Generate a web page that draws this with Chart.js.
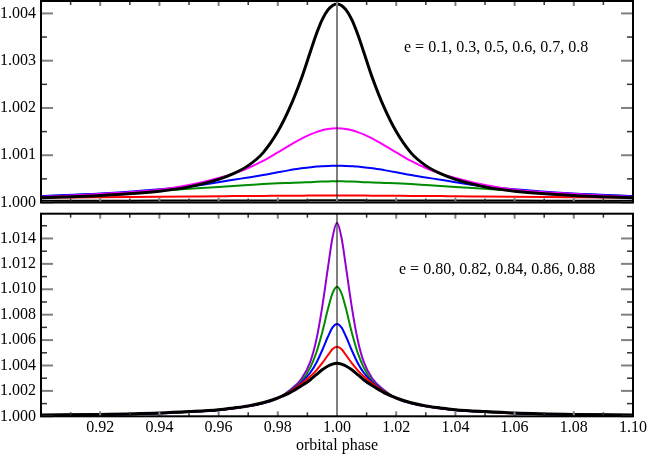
<!DOCTYPE html>
<html>
<head>
<meta charset="utf-8">
<script src="https://cdn.jsdelivr.net/npm/chart.js@4.4.0/dist/chart.umd.min.js"></script>
<style>
  html, body { margin: 0; padding: 0; background: #fff; }
  #wrap { position: relative; width: 647px; height: 455px; }
  #topBox { position: absolute; left: 0; top: 0; width: 647px; height: 208px; }
  #bottomBox { position: absolute; left: 0; top: 208px; width: 647px; height: 247px; }
</style>
</head>
<body>
<div id="wrap">
  <div id="topBox"><canvas id="topChart" width="647" height="208"></canvas></div>
  <div id="bottomBox"><canvas id="bottomChart" width="647" height="247"></canvas></div>
</div>
<script>
// orbital phase grid (denser near periastron)
const phase = [0.900, 0.920, 0.940, 0.950, 0.960, 0.965, 0.970, 0.975, 0.980, 0.984, 0.988, 0.991, 0.993, 0.995, 0.997, 0.9985, 1.000,
  1.0015, 1.003, 1.005, 1.007, 1.009, 1.012, 1.016, 1.020, 1.025, 1.030, 1.035, 1.040, 1.050, 1.060, 1.080, 1.100];

// top panel: e = 0.1 ... 0.8
const e01 = [1.000035, 1.000035, 1.00004, 1.00004, 1.00004, 1.00004, 1.00004, 1.00004, 1.000042, 1.000043, 1.000044, 1.000045, 1.000045, 1.000045, 1.000045, 1.000045, 1.000045,
  1.000045, 1.000045, 1.000045, 1.000045, 1.000045, 1.000044, 1.000043, 1.000042, 1.00004, 1.00004, 1.00004, 1.00004, 1.00004, 1.00004, 1.000035, 1.000035];
const e03 = [1.000100, 1.000110, 1.000120, 1.000125, 1.000130, 1.000135, 1.000137, 1.000140, 1.000142, 1.000144, 1.000145, 1.000146, 1.000147, 1.000147, 1.000147, 1.000147, 1.000147,
  1.000147, 1.000147, 1.000147, 1.000147, 1.000146, 1.000145, 1.000144, 1.000142, 1.000140, 1.000137, 1.000135, 1.000130, 1.000125, 1.000120, 1.000110, 1.000100];
const e05 = [1.00013, 1.00018, 1.00025, 1.00029, 1.00033, 1.00035, 1.00037, 1.00039, 1.000405, 1.000415, 1.000425, 1.00043, 1.000437, 1.000442, 1.000446, 1.000448, 1.00045,
  1.000448, 1.000446, 1.000442, 1.000437, 1.00043, 1.000425, 1.000415, 1.000405, 1.00039, 1.00037, 1.00035, 1.00033, 1.00029, 1.00025, 1.00018, 1.00013];
const e06 = [1.000135, 1.00019, 1.00028, 1.00034, 1.00043, 1.00048, 1.00053, 1.00058, 1.00064, 1.000685, 1.000725, 1.000745, 1.00076, 1.000768, 1.000774, 1.000777, 1.000778,
  1.000777, 1.000774, 1.000768, 1.00076, 1.000745, 1.000725, 1.000685, 1.00064, 1.00058, 1.00053, 1.00048, 1.00043, 1.00034, 1.00028, 1.00019, 1.000135];
const e07 = [1.00012, 1.00018, 1.00027, 1.00037, 1.00052, 1.00061, 1.00073, 1.00088, 1.00106, 1.00121, 1.00135, 1.00144, 1.00149, 1.00153, 1.001555, 1.001565, 1.00157,
  1.001565, 1.001555, 1.00153, 1.00149, 1.00144, 1.00135, 1.00121, 1.00106, 1.00088, 1.00073, 1.00061, 1.00052, 1.00037, 1.00027, 1.00018, 1.00012];
const e08 = [1.00010, 1.00015, 1.00024, 1.00033, 1.00049, 1.00061, 1.00078, 1.00105, 1.00150, 1.00200, 1.00263, 1.00319, 1.00356, 1.00387, 1.00408, 1.00417, 1.00420,
  1.00417, 1.00408, 1.00387, 1.00356, 1.00319, 1.00263, 1.00200, 1.00150, 1.00105, 1.00078, 1.00061, 1.00049, 1.00033, 1.00024, 1.00015, 1.00010];

// bottom panel: e = 0.80 ... 0.88
const e080 = [1.00010, 1.00015, 1.00026, 1.00037, 1.00052, 1.00066, 1.00082, 1.00107, 1.00145, 1.00185, 1.00240, 1.00288, 1.00328, 1.00366, 1.00396, 1.00411, 1.00417,
  1.00411, 1.00396, 1.00366, 1.00328, 1.00288, 1.00240, 1.00185, 1.00145, 1.00107, 1.00082, 1.00066, 1.00052, 1.00037, 1.00026, 1.00015, 1.00010];
const e082 = [1.000097, 1.000145, 1.00025, 1.00036, 1.00051, 1.00065, 1.00081, 1.00106, 1.00144, 1.00193, 1.00258, 1.00315, 1.00362, 1.00418, 1.00483, 1.00530, 1.00548,
  1.00530, 1.00483, 1.00418, 1.00362, 1.00315, 1.00258, 1.00193, 1.00144, 1.00106, 1.00081, 1.00065, 1.00051, 1.00036, 1.00025, 1.000145, 1.000097];
const e084 = [1.000095, 1.00014, 1.000245, 1.00035, 1.00050, 1.00064, 1.00080, 1.00105, 1.00143, 1.00197, 1.00266, 1.00345, 1.00420, 1.00520, 1.00630, 1.00700, 1.00727,
  1.00700, 1.00630, 1.00520, 1.00420, 1.00345, 1.00266, 1.00197, 1.00143, 1.00105, 1.00080, 1.00064, 1.00050, 1.00035, 1.000245, 1.00014, 1.000095];
const e086 = [1.00009, 1.00014, 1.00024, 1.00034, 1.00049, 1.00063, 1.00079, 1.00104, 1.00142, 1.00200, 1.00275, 1.00385, 1.00500, 1.00660, 1.00850, 1.00970, 1.01020,
  1.00970, 1.00850, 1.00660, 1.00500, 1.00385, 1.00275, 1.00200, 1.00142, 1.00104, 1.00079, 1.00063, 1.00049, 1.00034, 1.00024, 1.00014, 1.00009];
const e088 = [1.000085, 1.00013, 1.00023, 1.00033, 1.00048, 1.00061, 1.00077, 1.00102, 1.00140, 1.00205, 1.00295, 1.00430, 1.00600, 1.00860, 1.01180, 1.01410, 1.01524,
  1.01410, 1.01180, 1.00860, 1.00600, 1.00430, 1.00295, 1.00205, 1.00140, 1.00102, 1.00077, 1.00061, 1.00048, 1.00033, 1.00023, 1.00013, 1.000085];

const topLabel = 'e = 0.1, 0.3, 0.5, 0.6, 0.7, 0.8';
const bottomLabel = 'e = 0.80, 0.82, 0.84, 0.86, 0.88';

const serif = "'Liberation Serif', 'Times New Roman', serif";
const tickFont = { family: serif, size: 16 };
Chart.defaults.font.family = serif;
Chart.defaults.font.size = 16;
Chart.defaults.color = '#000';

function series(values, color, width) {
  return {
    data: phase.map((p, i) => ({ x: p, y: values[i] })),
    borderColor: color,
    borderWidth: width,
    pointRadius: 0,
    fill: false,
    cubicInterpolationMode: 'monotone'
  };
}

// box, inward ticks on all sides, the line at phase 1.00 and the e label
const framePlugin = {
  id: 'frame',
  afterDatasetsDraw(chart, args, opts) {
    const { ctx, chartArea: a, scales: { x, y } } = chart;
    ctx.save();

    let px = x.getPixelForValue(1.0);
    ctx.strokeStyle = '#000';
    ctx.lineWidth = 1;
    ctx.beginPath();
    ctx.moveTo(px, a.top);
    ctx.lineTo(px, a.bottom);
    ctx.stroke();

    const tick = (x0, y0, x1, y1, major) => {
      ctx.strokeStyle = major ? '#808080' : '#333';
      ctx.lineWidth = major ? 2 : 1.5;
      ctx.beginPath();
      ctx.moveTo(x0, y0);
      ctx.lineTo(x1, y1);
      ctx.stroke();
    };

    // x ticks
    let n = Math.round((x.max - x.min) / opts.xMinor);
    for (let i = 0; i <= n; i++) {
      let v = x.min + i * opts.xMinor;
      let p = x.getPixelForValue(v);
      let major = i % 2 === 0;
      let len = major ? 5 : 4;
      tick(p, a.bottom, p, a.bottom - len, major);
      tick(p, a.top, p, a.top + len, major);
    }
    // y ticks
    n = Math.floor((y.max - y.min) / opts.yMinor + 1e-6);
    for (let i = 0; i <= n; i++) {
      let v = y.min + i * opts.yMinor;
      let p = y.getPixelForValue(v);
      let major = i % 2 === 0;
      let len = major ? 12 : 6;
      tick(a.left, p, a.left + len, p, major);
      tick(a.right, p, a.right - len, p, major);
    }

    ctx.strokeStyle = '#000';
    ctx.lineWidth = 2;
    ctx.strokeRect(a.left, a.top, a.right - a.left, a.bottom - a.top);

    ctx.fillStyle = '#000';
    ctx.font = '16px ' + serif;
    ctx.textAlign = 'left';
    ctx.textBaseline = 'middle';
    ctx.fillText(opts.label, opts.labelX, opts.labelY);
    ctx.restore();
  }
};

// fixed axis sizes, no extra room for overhanging labels
const yFit = s => { s.width = 41; s.paddingTop = 0; s.paddingBottom = 0; };
const xFit = s => { s.height = 38.7; s.paddingLeft = 0; s.paddingRight = 0; };

new Chart(document.getElementById('topChart'), {
  type: 'line',
  data: {
    datasets: [
      series(e08, '#000000', 3),
      series(e07, '#ff00ff', 2),
      series(e06, '#0000ff', 2),
      series(e05, '#008c00', 2),
      series(e03, '#ff0000', 2),
      series(e01, '#000000', 2)
    ]
  },
  options: {
    responsive: false,
    animation: false,
    layout: { padding: { top: 1, right: 14, bottom: 5.5, left: 0 } },
    plugins: {
      legend: { display: false },
      tooltip: { enabled: false },
      frame: { xMinor: 0.01, yMinor: 0.0005, label: topLabel, labelX: 404, labelY: 48 }
    },
    scales: {
      x: { type: 'linear', min: 0.9, max: 1.1, display: false },
      y: {
        min: 1.0, max: 1.004263,
        afterFit: yFit,
        grid: { display: false, drawTicks: false },
        border: { display: false },
        ticks: { stepSize: 0.001, includeBounds: false, autoSkip: false, padding: 5, font: tickFont,
          callback: v => v.toFixed(3) }
      }
    }
  },
  plugins: [framePlugin]
});

new Chart(document.getElementById('bottomChart'), {
  type: 'line',
  data: {
    datasets: [
      series(e080, '#000000', 3),
      series(e082, '#ff0000', 2),
      series(e084, '#0000ff', 2),
      series(e086, '#008c00', 2),
      series(e088, '#9400d3', 2)
    ]
  },
  options: {
    responsive: false,
    animation: false,
    layout: { padding: { top: 5.7, right: 14, bottom: 0, left: 0 } },
    plugins: {
      legend: { display: false },
      tooltip: { enabled: false },
      frame: { xMinor: 0.01, yMinor: 0.001, label: bottomLabel, labelX: 399, labelY: 62 }
    },
    scales: {
      x: {
        type: 'linear', min: 0.9, max: 1.1,
        afterFit: xFit,
        grid: { display: false, drawTicks: false },
        border: { display: false },
        ticks: { stepSize: 0.02, includeBounds: false, autoSkip: false, maxRotation: 0, padding: 2, font: tickFont,
          callback: v => (v < 0.91 ? '' : v.toFixed(2)) },
        title: { display: true, text: 'orbital phase', font: tickFont, padding: { top: 0, bottom: 0 } }
      },
      y: {
        min: 1.0, max: 1.01595,
        afterFit: yFit,
        grid: { display: false, drawTicks: false },
        border: { display: false },
        ticks: { stepSize: 0.002, includeBounds: false, autoSkip: false, padding: 5, font: tickFont,
          callback: v => v.toFixed(3) }
      }
    }
  },
  plugins: [framePlugin]
});
</script>
</body>
</html>
